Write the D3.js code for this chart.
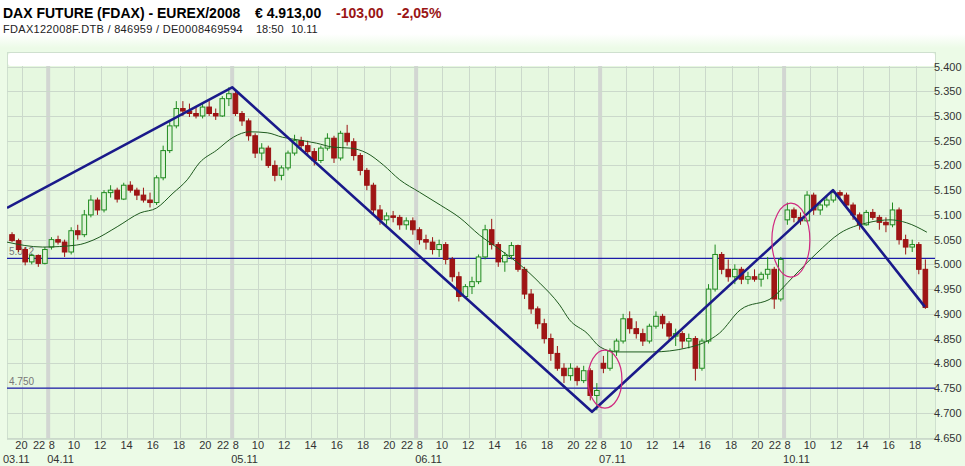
<!DOCTYPE html>
<html><head><meta charset="utf-8">
<script src="https://cdn.jsdelivr.net/npm/d3@7/dist/d3.min.js"></script>
<style>
html,body{margin:0;padding:0;background:#fff;}
svg{display:block;font-family:"Liberation Sans",Arial,sans-serif;}
</style></head><body>
<svg id="c" width="965" height="466"></svg>
<script>
// ---------- DATA ----------
const days = ["03.11","04.11","05.11","06.11","07.11","10.11"];
const firstBar = ["19:00","08:00","08:00","08:00","08:00","08:00"];
const barCount = [6,28,28,28,28,22];
const sessionOpen = 8, sessionHours = 14, barHours = 0.5;

const opens = [
 5060,5048,5030,5005,5018,5002,
 5035,5050,5045,5025,5068,5060,5100,5130,5110,5145,5150,5132,5160,5150,5140,5130,5125,5175,5230,5280,5315,5310,5305,5300,5318,5305,5300,5335,
 5345,5305,5290,5260,5225,5235,5200,5180,5195,5225,5250,5240,5228,5210,5235,5255,5215,5265,5248,5220,5190,5160,5110,5090,5098,5095,5080,5088,
 5070,5050,5045,5030,5040,5010,4975,4935,4955,4965,5015,5070,5040,5005,5018,5038,4990,4940,4910,4880,4850,4820,4790,4775,4790,4765,4785,4735,
 4800,4790,4825,4845,4890,4870,4860,4845,4875,4895,4880,4855,4860,4845,4850,4790,4845,4950,5020,4990,4975,4990,4970,4975,4970,4980,4990,4930,
 5090,5110,5095,5088,5140,5110,5120,5130,5145,5140,5120,5100,5080,5105,5095,5085,5080,5110,5050,5035,5040,4990
];
const highs = [
 5065,5052,5035,5022,5020,5035,
 5055,5058,5050,5075,5080,5110,5140,5135,5150,5160,5155,5165,5168,5155,5155,5145,5180,5240,5290,5330,5330,5325,5320,5325,5330,5315,5340,5358,
 5350,5310,5295,5265,5245,5240,5210,5200,5230,5262,5258,5250,5235,5240,5265,5260,5270,5282,5255,5225,5195,5165,5120,5105,5108,5100,5095,5095,
 5075,5060,5055,5050,5045,5015,4985,4960,4975,5020,5080,5092,5045,5025,5045,5040,4995,4950,4915,4890,4860,4835,4800,4800,4795,4795,4790,4760,
 4815,4830,4850,4900,4905,4885,4870,4880,4905,4900,4885,4870,4865,4860,4855,4850,4960,5040,5025,5010,5000,4995,4985,4990,4985,5015,4995,5015,
 5125,5115,5105,5148,5145,5125,5140,5152,5150,5145,5125,5105,5110,5112,5100,5095,5125,5115,5060,5050,5045,5010
];
const lows = [
 5045,5025,4998,5000,4995,5000,
 5030,5040,5015,5020,5050,5055,5095,5100,5105,5135,5125,5130,5145,5130,5125,5115,5120,5170,5225,5275,5300,5298,5295,5295,5300,5292,5298,5320,
 5300,5280,5250,5215,5210,5195,5168,5170,5190,5220,5230,5220,5200,5205,5230,5205,5210,5240,5210,5180,5150,5100,5080,5080,5085,5070,5070,5060,
 5040,5030,5020,5015,5000,4965,4925,4930,4940,4960,5010,5030,4995,4985,5010,4985,4930,4900,4870,4840,4805,4785,4760,4765,4755,4760,4725,4705,
 4780,4785,4815,4840,4860,4850,4835,4840,4870,4870,4845,4835,4830,4830,4765,4785,4840,4945,4980,4965,4960,4960,4960,4965,4955,4970,4910,4925,
 5080,5085,5080,5085,5100,5100,5115,5125,5130,5115,5090,5070,5078,5090,5070,5065,5075,5040,5020,5025,4980,4910
];
const closes = [
 5048,5030,5005,5018,5002,5030,
 5050,5045,5025,5068,5060,5100,5130,5110,5145,5150,5132,5160,5150,5140,5130,5125,5175,5230,5280,5315,5310,5305,5300,5318,5305,5300,5335,5345,
 5305,5290,5260,5225,5235,5200,5180,5195,5225,5250,5240,5228,5210,5235,5255,5215,5265,5248,5220,5190,5160,5110,5090,5098,5095,5080,5088,5070,
 5050,5045,5030,5040,5010,4975,4935,4955,4965,5015,5070,5040,5005,5018,5038,4990,4940,4910,4880,4850,4820,4790,4775,4790,4765,4785,4735,4745,
 4790,4825,4845,4890,4870,4860,4845,4875,4895,4880,4855,4860,4845,4850,4790,4845,4950,5020,4990,4975,4990,4970,4975,4970,4980,4990,4930,5010,
 5110,5095,5088,5140,5110,5120,5130,5145,5140,5120,5100,5080,5105,5095,5085,5080,5110,5050,5035,5040,4990,4913
];

// moving average line
const maTime = ["03.11 18:52","03.11 21:35","04.11 10:10","04.11 11:25","04.11 13:15","04.11 15:00","04.11 16:15","04.11 17:30","04.11 18:35","04.11 19:30","04.11 20:50",
 "05.11 08:05","05.11 09:20","05.11 10:40","05.11 11:50","05.11 13:10","05.11 14:25","05.11 15:40","05.11 17:00","05.11 18:15","05.11 19:30","05.11 20:45",
 "06.11 08:15","06.11 09:50","06.11 11:20","06.11 12:50","06.11 14:25","06.11 15:55","06.11 17:25","06.11 18:55","06.11 19:40","06.11 21:00",
 "07.11 08:00","07.11 09:15","07.11 12:00","07.11 14:35","07.11 15:50","07.11 17:05","07.11 18:40","07.11 21:10",
 "10.11 08:40","10.11 10:30","10.11 12:15","10.11 14:20","10.11 16:05","10.11 17:20","10.11 18:52"];
const maValue = [5045,5035,5039,5049,5076,5104,5114,5144,5171,5205,5231,
 5257,5268,5266,5257,5251,5245,5237,5235,5225,5201,5171,
 5146,5120,5094,5059,5029,4999,4962,4918,4888,4861,
 4833,4823,4823,4831,4841,4861,4908,4934,
 4974,5023,5063,5084,5090,5084,5065];

// trend lines (connected vertices)
const trendTime = ["03.11 18:52","05.11 08:00","06.11 21:23","10.11 11:43","10.11 18:43"];
const trendValue = [5114,5358,4702,5150,4914];

// horizontal levels
const levelValue = [5012, 4750];

// highlight ellipses
const ellipseTime = ["07.11 08:22","10.11 08:31"];
const ellipseValue = [4768, 5049];

const yTicks = [4650,4700,4750,4800,4850,4900,4950,5000,5050,5100,5150,5200,5250,5300,5350,5400];
const hourLabels = [8,10,12,14,16,18,20,22];
const xDomain = ["03.11 18:52","10.11 19:29"];

const title = "DAX FUTURE (FDAX) - EUREX/2008";
const lastPrice = "€ 4.913,00";
const change = "-103,00";
const changePct = "-2,05%";
const subtitle = "FDAX122008F.DTB / 846959 / DE0008469594";
const lastTime = "18:50";
const lastDate = "10.11";

// ---------- HELPERS ----------
function parseT(s){
  const [d, hm] = s.split(" ");
  const [h, m] = hm.split(":").map(Number);
  return days.indexOf(d)*sessionHours + h + m/60 - sessionOpen;
}
const bars = [];
{
  let i = 0;
  days.forEach((d, di) => {
    const t0 = parseT(d + " " + firstBar[di]);
    for (let k = 0; k < barCount[di]; k++, i++) {
      bars.push({t: t0 + k*barHours, o: opens[i], h: highs[i], l: lows[i], c: closes[i]});
    }
  });
}

// ---------- LAYOUT ----------
const W = 965, H = 466;
const X0 = 7, X1 = 935, PT = 52, PB = 439, GT = 66;
const svg = d3.select("#c");

const xs = d3.scaleLinear().domain(xDomain.map(parseT)).range([X0, X1]);
const ys = d3.scaleLinear().domain([4650, 5400]).range([437.5, 66.5]);

const defs = svg.append("defs");
const grad = defs.append("linearGradient").attr("id","pg").attr("x1",0).attr("y1",0).attr("x2",0).attr("y2",1);
grad.append("stop").attr("offset","0%").attr("stop-color","#ffffff");
grad.append("stop").attr("offset","100%").attr("stop-color","#ecfbe7");
defs.append("clipPath").attr("id","clip").append("rect").attr("x",X0).attr("y",PT).attr("width",X1-X0).attr("height",PB-PT);

svg.append("rect").attr("width",W).attr("height",H).attr("fill","#ffffff");
svg.append("rect").attr("x",0).attr("y",34).attr("width",W).attr("height",14).attr("fill","url(#pg)");
svg.append("rect").attr("x",0).attr("y",48).attr("width",W).attr("height",H-48).attr("fill","#ecfbe7");

// plot frame
svg.append("rect").attr("x",X0+0.5).attr("y",PT+0.5).attr("width",X1-X0).attr("height",PB-PT)
  .attr("fill","#e6f8e0").attr("stroke","#cfe0cf");
svg.append("rect").attr("x",X0+1).attr("y",PT+1).attr("width",X1-X0-1).attr("height",GT-PT-1)
  .attr("fill","#ffffff").attr("rx",3);

// ---------- HEADER ----------
const hdr = svg.append("g");
hdr.append("text").attr("x",3).attr("y",18).attr("font-size",14).attr("font-weight","bold").attr("fill","#000").text(title);
hdr.append("text").attr("x",255).attr("y",18).attr("font-size",14).attr("font-weight","bold").attr("fill","#000").text(lastPrice);
hdr.append("text").attr("x",336).attr("y",18).attr("font-size",14).attr("font-weight","bold").attr("fill","#9a1515").text(change);
hdr.append("text").attr("x",397).attr("y",18).attr("font-size",14).attr("font-weight","bold").attr("fill","#9a1515").text(changePct);
hdr.append("text").attr("x",3).attr("y",33).attr("font-size",11).attr("fill","#222").attr("letter-spacing",0.3).text(subtitle);
hdr.append("text").attr("x",256).attr("y",33).attr("font-size",11).attr("fill","#222").text(lastTime);
hdr.append("text").attr("x",291).attr("y",33).attr("font-size",11).attr("fill","#222").text(lastDate);

// ---------- GRID ----------
const tMin = xs.domain()[0], tMax = xs.domain()[1];
const regularTicks = [], boundaryTicks = [];
days.forEach((d, di) => {
  hourLabels.forEach(h => {
    const t = di*sessionHours + h - sessionOpen;
    if (t < tMin || t > tMax) return;
    if (h === sessionOpen && di > 0) boundaryTicks.push({t, di});
    else if (h !== 22) regularTicks.push({t, h});
  });
});

const grid = svg.append("g");
grid.selectAll("line.v").data(regularTicks).join("line")
  .attr("x1", d => Math.round(xs(d.t))+0.5).attr("x2", d => Math.round(xs(d.t))+0.5)
  .attr("y1", GT).attr("y2", PB).attr("stroke","#cbd9cb").attr("stroke-width",1);
grid.selectAll("line.b").data(boundaryTicks).join("line")
  .attr("x1", d => xs(d.t)).attr("x2", d => xs(d.t))
  .attr("y1", GT).attr("y2", PB).attr("stroke","#d2d6d2").attr("stroke-width",4);
grid.selectAll("line.h").data(yTicks).join("line")
  .attr("x1", X0).attr("x2", X1).attr("y1", d => Math.round(ys(d))+0.5).attr("y2", d => Math.round(ys(d))+0.5)
  .attr("stroke","#cbd9cb").attr("stroke-width",1);

// ---------- AXES ----------
const gy = svg.append("g").attr("transform",`translate(${X1-1},0)`)
  .call(d3.axisRight(ys).tickValues(yTicks).tickSize(0).tickPadding(0).tickFormat(v => (v/1000).toFixed(3)));
gy.select(".domain").remove();
gy.attr("font-family","Liberation Sans, Arial, sans-serif").attr("font-size",11);
gy.selectAll("text").attr("fill","#333");

const gx = svg.append("g").attr("transform",`translate(0,${PB})`)
  .call(d3.axisBottom(xs).tickValues(regularTicks.map(d => d.t)).tickSize(0).tickPadding(0)
    .tickFormat(t => { const r = regularTicks.find(d => d.t === t); return r ? String(r.h) : ""; }));
gx.select(".domain").remove();
gx.attr("font-family","Liberation Sans, Arial, sans-serif").attr("font-size",11);
gx.selectAll("text").attr("fill","#333").attr("dy",null).attr("y",10).attr("x",-1);

const lab = svg.append("g").attr("font-size",11).attr("fill","#333");
boundaryTicks.forEach(b => {
  lab.append("text").attr("x", xs(b.t)-3).attr("y", PB+10).attr("text-anchor","end").text("22");
  lab.append("text").attr("x", xs(b.t)+0.5).attr("y", PB+10).text(String(sessionOpen));
});
days.forEach((d, di) => {
  const t = di === 0 ? tMin : di*sessionHours;
  lab.append("text").attr("x", di === 0 ? 3 : xs(t)-1).attr("y", PB+24).text(d);
});

// ---------- MARKS ----------
const plot = svg.append("g").attr("clip-path","url(#clip)");

// levels
plot.selectAll("line.lvl").data(levelValue).join("line")
  .attr("x1", X0).attr("x2", X1).attr("y1", d => ys(d)).attr("y2", d => ys(d))
  .attr("stroke","#1c1ca8").attr("stroke-width",1.3);
plot.selectAll("text.lvl").data(levelValue).join("text")
  .attr("x", X0+2).attr("y", d => ys(d)-3).attr("font-size",10).attr("fill","#777")
  .text(d => (d/1000).toFixed(3));

// candles
const pxPerHour = xs(1) - xs(0);
const bw = pxPerHour*barHours*0.7;
const cg = plot.append("g");
bars.forEach(b => {
  const up = b.c >= b.o;
  const cx = xs(b.t + barHours/2);
  const col = up ? "#1f8a1f" : "#9a1212";
  cg.append("line").attr("x1",cx).attr("x2",cx).attr("y1",ys(b.h)).attr("y2",ys(b.l))
    .attr("stroke",col).attr("stroke-width",1);
  const y1 = ys(Math.max(b.o,b.c)), y2 = ys(Math.min(b.o,b.c));
  cg.append("rect").attr("x",cx-bw/2).attr("y",y1).attr("width",bw).attr("height",Math.max(1,y2-y1))
    .attr("fill", up ? "#dff5d8" : "#a01515").attr("stroke",col).attr("stroke-width",1);
});

// moving average
const ma = maTime.map((s,i) => ({t: parseT(s), v: maValue[i]}));
plot.append("path").datum(ma)
  .attr("d", d3.line().x(d => xs(d.t)).y(d => ys(d.v)).curve(d3.curveMonotoneX))
  .attr("fill","none").attr("stroke","#1e5a1e").attr("stroke-width",1);

// trend lines
const tr = trendTime.map((s,i) => ({t: parseT(s), v: trendValue[i]}));
plot.append("path").datum(tr)
  .attr("d", d3.line().x(d => xs(d.t)).y(d => ys(d.v)))
  .attr("fill","none").attr("stroke","#1a1a8a").attr("stroke-width",2.6).attr("stroke-linejoin","round");

// ellipses
const ellRadii = [[17,29],[19,37]];
plot.selectAll("ellipse").data(ellipseTime).join("ellipse")
  .attr("cx", (d,i) => xs(parseT(d))).attr("cy", (d,i) => ys(ellipseValue[i]))
  .attr("rx", (d,i) => ellRadii[i][0]).attr("ry", (d,i) => ellRadii[i][1])
  .attr("fill","none").attr("stroke","#d02a80").attr("stroke-width",1.2);
</script></body></html>
